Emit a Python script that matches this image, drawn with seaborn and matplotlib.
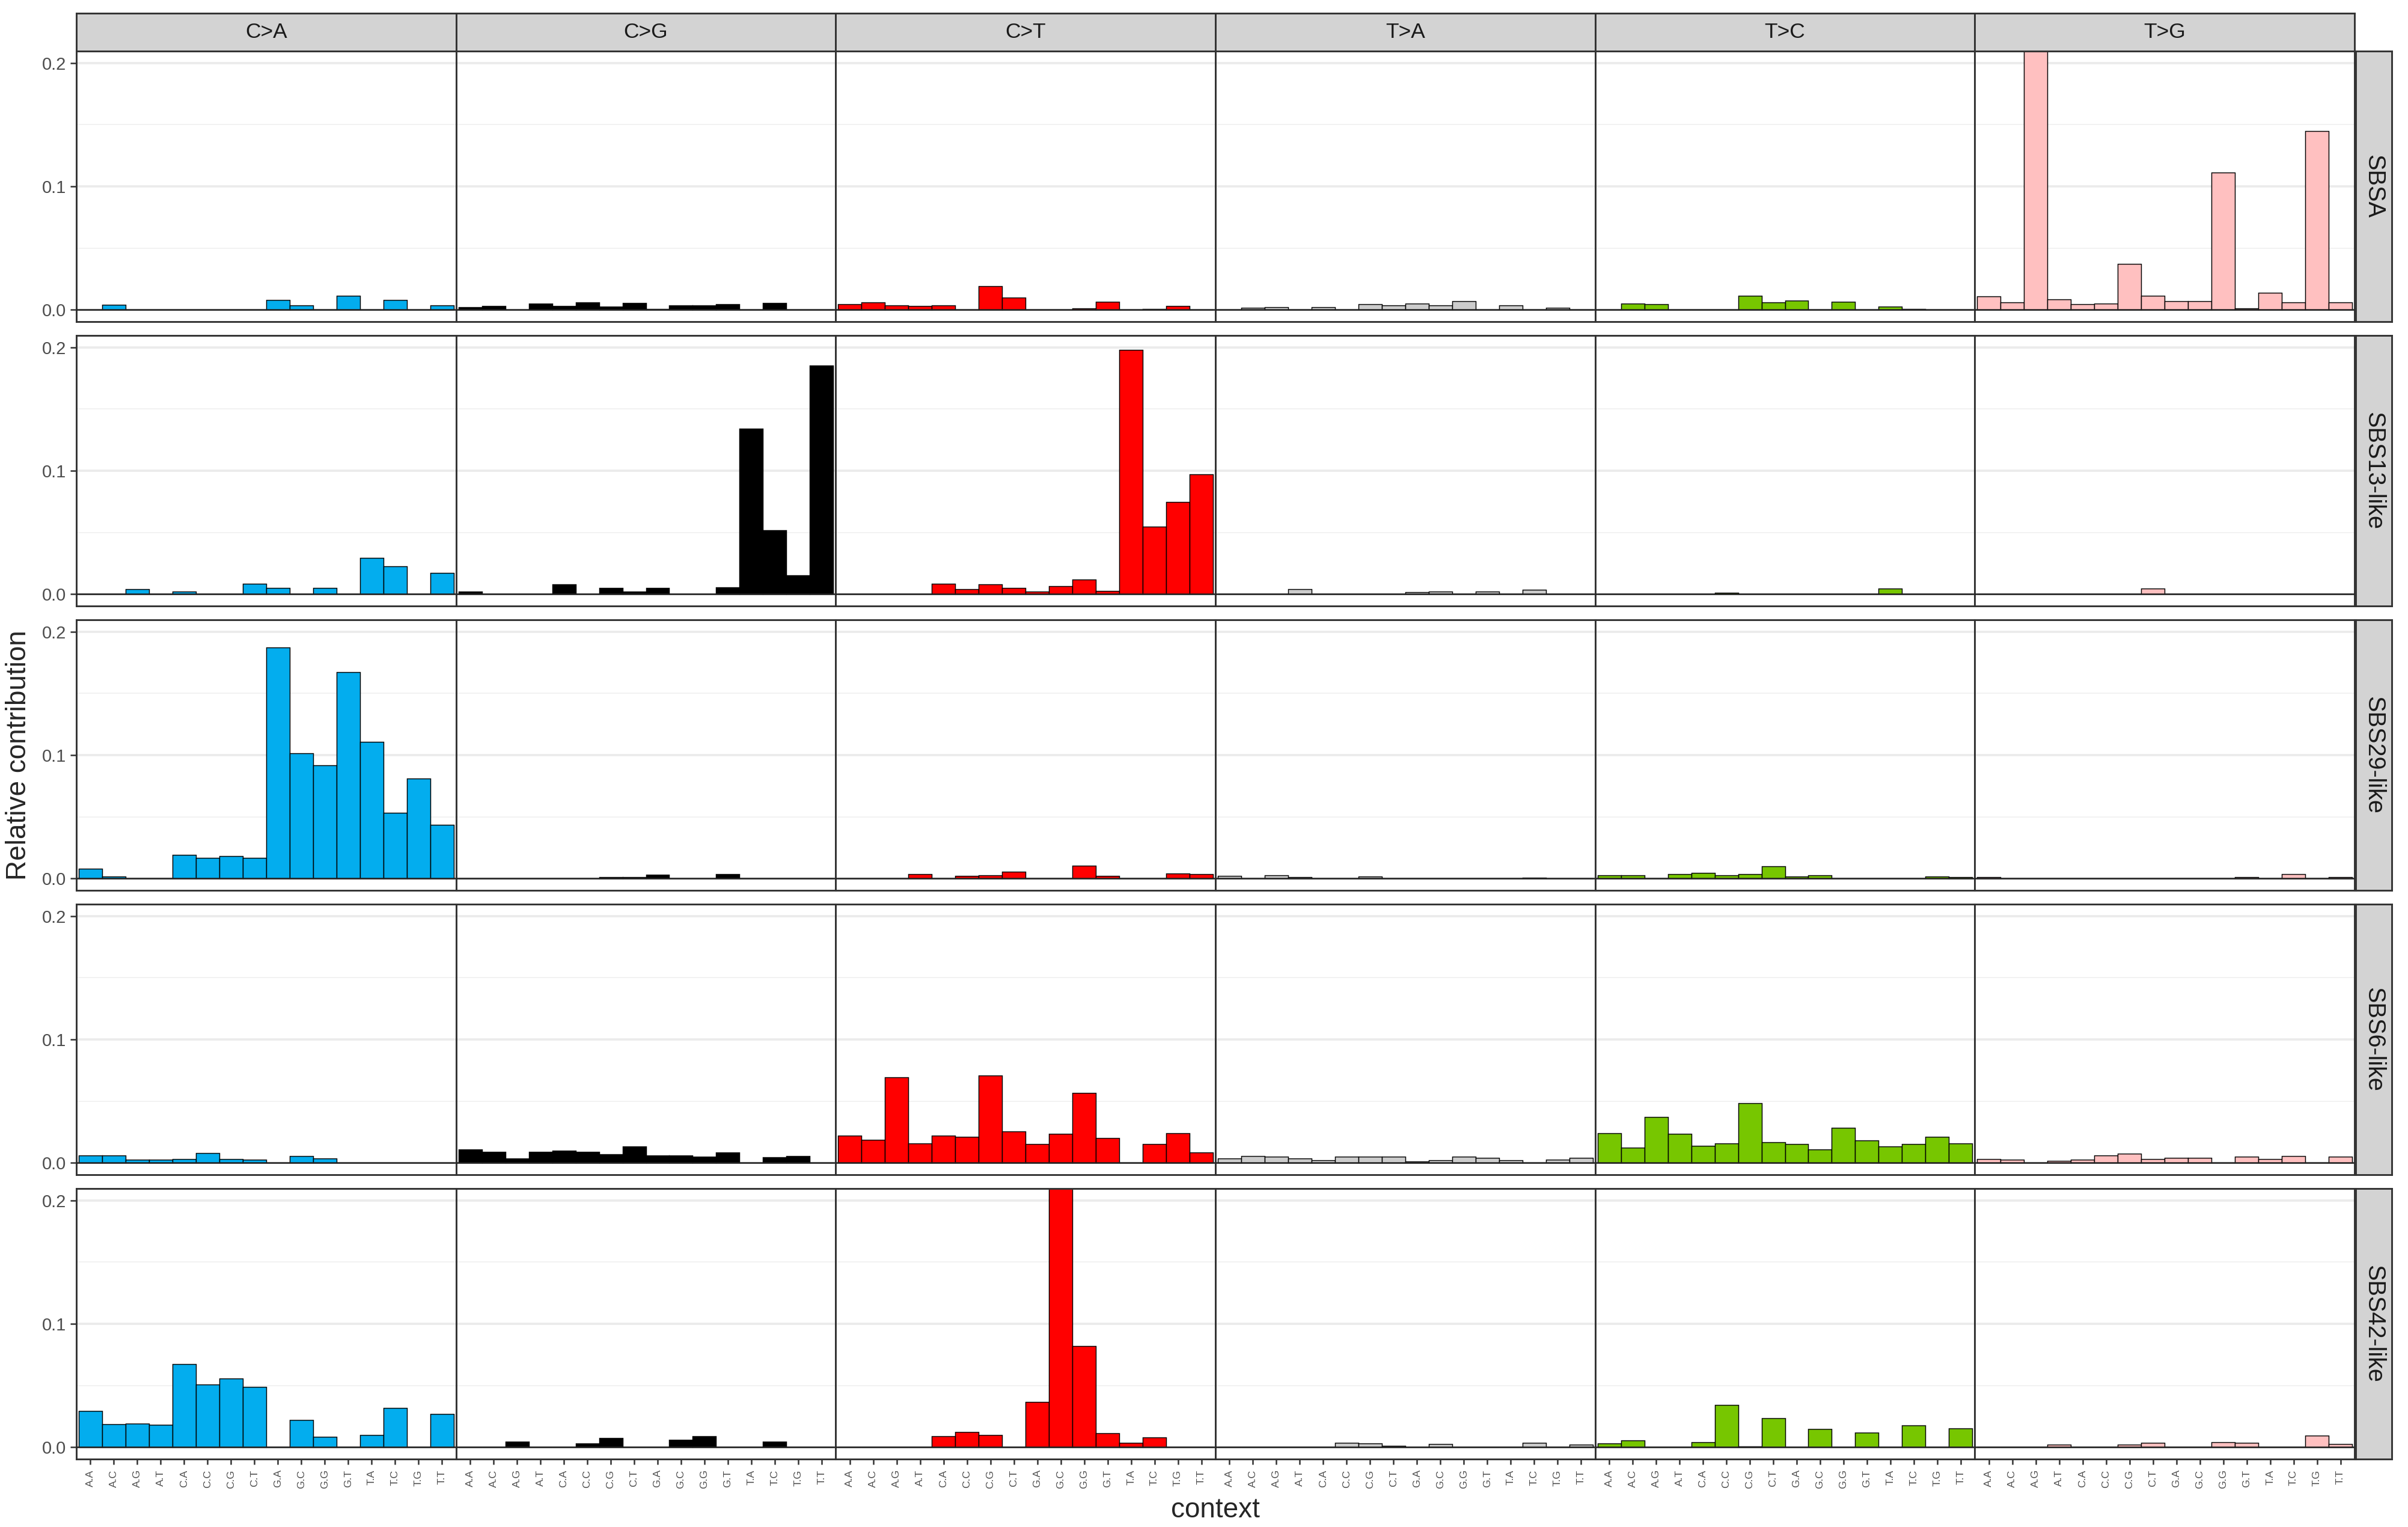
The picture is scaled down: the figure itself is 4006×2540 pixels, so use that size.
import matplotlib
matplotlib.use("Agg")
import matplotlib.pyplot as plt
import pandas as pd
import seaborn as sns

sns.set_theme(style="white")
plt.rcParams["font.family"] = ["Liberation Sans", "DejaVu Sans"]

CONTEXTS = ["A.A", "A.C", "A.G", "A.T", "C.A", "C.C", "C.G", "C.T",
            "G.A", "G.C", "G.G", "G.T", "T.A", "T.C", "T.G", "T.T"]
MUT_TYPES = ["C>A", "C>G", "C>T", "T>A", "T>C", "T>G"]
SIGNATURES = ["SBSA", "SBS13-like", "SBS29-like", "SBS6-like", "SBS42-like"]
COLORS = ["#03ADEE", "#000000", "#FF0000", "#CCCCCC", "#77C600", "#FFC0C0"]

# relative contribution per signature, 6 blocks of 16 contexts (C>A .. T>G)
sbsa = [0, 0.004, 0, 0, 0, 0, 0, 0, 0.008, 0.0035, 0, 0.0115, 0, 0.008, 0, 0.0035,
        0.002, 0.003, 0, 0.005, 0.003, 0.006, 0.0025, 0.0057, 0.0007, 0.0037, 0.0035, 0.0048, 0, 0.0057, 0, 0,
        0.0045, 0.006, 0.0037, 0.003, 0.0035, 0, 0.019, 0.010, 0, 0, 0.001, 0.0065, 0, 0.0008, 0.003, 0,
        0, 0.0015, 0.002, 0, 0.002, 0, 0.0048, 0.0035, 0.0053, 0.0035, 0.007, 0, 0.0035, 0, 0.0018, 0,
        0, 0.0052, 0.0045, 0, 0, 0, 0.0115, 0.006, 0.0073, 0, 0.0067, 0, 0.0027, 0.0005, 0, 0,
        0.011, 0.006, 0.39, 0.0084, 0.0048, 0.0053, 0.037, 0.0115, 0.0069, 0.0069, 0.111, 0.0012, 0.0137, 0.006, 0.145, 0.006]
sbs13 = [0, 0, 0.0039, 0, 0.002, 0, 0, 0.0083, 0.0053, 0, 0.0053, 0, 0.0296, 0.0227, 0, 0.0172,
         0.002, 0, 0, 0, 0.0081, 0, 0.0049, 0.002, 0.0053, 0, 0, 0.0055, 0.134, 0.0518, 0.0155, 0.185,
         0, 0, 0, 0, 0.0083, 0.0042, 0.0081, 0.0053, 0.0021, 0.0065, 0.012, 0.0029, 0.198, 0.0547, 0.0748, 0.0973,
         0, 0, 0, 0.0039, 0, 0, 0, 0, 0.0015, 0.002, 0, 0.002, 0, 0.0036, 0, 0,
         0, 0, 0, 0, 0, 0.0013, 0, 0, 0, 0, 0, 0, 0.0045, 0, 0, 0,
         0, 0, 0, 0, 0, 0, 0, 0.0045, 0, 0, 0, 0, 0, 0, 0, 0]
sbs29 = [0.0081, 0.0019, 0, 0, 0.0191, 0.0168, 0.0183, 0.0168, 0.187, 0.1015, 0.0918, 0.167, 0.1108, 0.0534, 0.0808, 0.0434,
         0, 0, 0, 0, 0, 0, 0.001, 0.001, 0.003, 0, 0, 0.0036, 0, 0, 0, 0,
         0, 0, 0, 0.0037, 0, 0.0021, 0.0026, 0.0058, 0, 0, 0.0104, 0.0021, 0, 0, 0.0039, 0.0036,
         0.0024, 0, 0.0026, 0.0013, 0, 0, 0.0015, 0, 0, 0, 0, 0, 0, 0.0006, 0, 0,
         0.0026, 0.0026, 0, 0.0036, 0.0044, 0.0026, 0.0034, 0.0102, 0.0016, 0.0026, 0, 0, 0, 0, 0.0015, 0.001,
         0.001, 0, 0, 0, 0, 0, 0, 0, 0, 0, 0, 0.0011, 0, 0.0036, 0, 0.0013]
sbs6 = [0.0062, 0.006, 0.0026, 0.0029, 0.0031, 0.0081, 0.0032, 0.0026, 0, 0.0058, 0.0037, 0, 0, 0, 0, 0,
        0.0107, 0.0091, 0.0037, 0.0091, 0.0099, 0.0089, 0.0071, 0.0133, 0.0063, 0.0063, 0.005, 0.0083, 0, 0.0047, 0.0058, 0,
        0.022, 0.0185, 0.0693, 0.016, 0.022, 0.0212, 0.0709, 0.0256, 0.0155, 0.0238, 0.0565, 0.0201, 0, 0.0152, 0.0243, 0.0084,
        0.0036, 0.0057, 0.0049, 0.0034, 0.0021, 0.0049, 0.0049, 0.0049, 0.0013, 0.0021, 0.0049, 0.0042, 0.0023, 0, 0.0026, 0.0039,
        0.0241, 0.0125, 0.0372, 0.0235, 0.0138, 0.0159, 0.0484, 0.0167, 0.0154, 0.011, 0.0283, 0.018, 0.0136, 0.0151, 0.0211, 0.0159,
        0.0031, 0.0026, 0, 0.0019, 0.0026, 0.0063, 0.0074, 0.0032, 0.0042, 0.0042, 0, 0.0049, 0.0032, 0.0055, 0, 0.0049]
sbs42 = [0.0296, 0.0185, 0.0192, 0.018, 0.0674, 0.0507, 0.0557, 0.0489, 0, 0.0219, 0.0084, 0, 0.0102, 0.0318, 0, 0.027,
         0, 0, 0.0047, 0, 0, 0.0031, 0.0075, 0, 0, 0.0063, 0.009, 0, 0, 0.0045, 0, 0,
         0, 0, 0, 0, 0.009, 0.0124, 0.0099, 0, 0.0368, 0.21, 0.0818, 0.0115, 0.0034, 0.0079, 0, 0,
         0, 0, 0, 0, 0, 0.0034, 0.0032, 0.0014, 0, 0.0027, 0, 0, 0, 0.0038, 0, 0.002,
         0.0031, 0.0058, 0, 0, 0.004, 0.0341, 0.0009, 0.0234, 0, 0.0149, 0, 0.0117, 0, 0.0178, 0, 0.0155,
         0, 0, 0, 0.0022, 0, 0, 0.002, 0.0036, 0, 0, 0.0043, 0.0034, 0, 0, 0.0093, 0.0027]

rows = []
for sig, vals in zip(SIGNATURES, [sbsa, sbs13, sbs29, sbs6, sbs42]):
    for i, v in enumerate(vals):
        rows.append((sig, MUT_TYPES[i // 16], CONTEXTS[i % 16], v))
df = pd.DataFrame(rows, columns=["signature", "substitution", "context", "contribution"])

W, H = 4006, 2540
fig = plt.figure(figsize=(W / 300, H / 300), dpi=300)
gs = fig.add_gridspec(5, 6, left=127 / W, right=3917 / W, top=1 - 85 / H,
                      bottom=1 - 2427 / H, wspace=0, hspace=23 / 450)

BORDER = "#333333"
STRIP = "#D3D3D3"
TXT = "#4D4D4D"

for r, sig in enumerate(SIGNATURES):
    for c, mut in enumerate(MUT_TYPES):
        ax = fig.add_subplot(gs[r, c])
        sub = df[(df["signature"] == sig) & (df["substitution"] == mut)]
        sns.barplot(data=sub, x="context", y="contribution", order=CONTEXTS,
                    color=COLORS[c], saturation=1, width=1, errorbar=None,
                    edgecolor="black", linewidth=0.35, ax=ax, zorder=2)
        ax.axhline(0, color="#222222", lw=0.6, zorder=3)
        ax.set_xlim(-0.6, 15.6)
        ax.set_ylim(-0.0095, 0.2095)
        ax.set_yticks([0, 0.1, 0.2])
        ax.set_yticks([0.05, 0.15], minor=True)
        ax.grid(axis="y", which="major", color="#EBEBEB", lw=0.9)
        ax.grid(axis="y", which="minor", color="#F2F2F2", lw=0.45)
        ax.grid(axis="x", visible=False)
        ax.set_axisbelow(True)
        ax.set_xlabel("")
        ax.set_ylabel("")
        for sp in ax.spines.values():
            sp.set_color(BORDER)
            sp.set_linewidth(0.7)
        ax.tick_params(axis="y", which="minor", length=0)
        if c == 0:
            ax.set_yticklabels(["0.0", "0.1", "0.2"])
            ax.tick_params(axis="y", which="major", left=True, length=2.5, width=0.6,
                           color=BORDER, labelsize=7, labelcolor=TXT, pad=1.5)
        else:
            ax.tick_params(axis="y", which="major", left=False, labelleft=False)
        if r == len(SIGNATURES) - 1:
            ax.set_xticks(range(16))
            ax.set_xticklabels(CONTEXTS, rotation=90, fontsize=4.2, color=TXT)
            ax.tick_params(axis="x", bottom=True, length=2.2, width=0.6,
                           color=BORDER, pad=2)
        else:
            ax.tick_params(axis="x", bottom=False, labelbottom=False)

        pos = ax.get_position()
        if r == 0:
            sax = fig.add_axes([pos.x0, pos.y1, pos.width, 63 / H])
            sax.set_facecolor(STRIP)
            sax.set_xticks([])
            sax.set_yticks([])
            for sp in sax.spines.values():
                sp.set_color(BORDER)
                sp.set_linewidth(0.7)
            sax.text(0.5, 0.5, mut, ha="center", va="center", fontsize=8.5,
                     color="#1A1A1A", transform=sax.transAxes)
        if c == len(MUT_TYPES) - 1:
            sax = fig.add_axes([pos.x1 + 2 / W, pos.y0, 60 / W, pos.height])
            sax.set_facecolor(STRIP)
            sax.set_xticks([])
            sax.set_yticks([])
            for sp in sax.spines.values():
                sp.set_color(BORDER)
                sp.set_linewidth(0.7)
            sax.text(0.5, 0.5, sig, ha="center", va="center", fontsize=9.5,
                     rotation=270, color="#1A1A1A", transform=sax.transAxes)

fig.text(31 / W, 1 - 1256 / H, "Relative contribution", rotation=90,
         ha="center", va="center", fontsize=11)
fig.text((127 + 3917) / 2 / W, 1 - 2512 / H, "context",
         ha="center", va="center", fontsize=11)

fig.savefig("out.png", dpi=300)
